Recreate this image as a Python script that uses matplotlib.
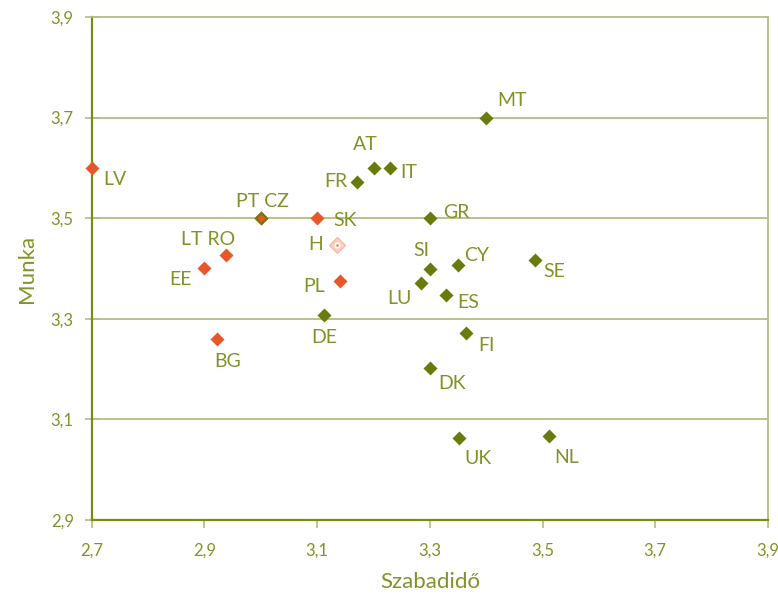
import matplotlib.pyplot as plt
from matplotlib.ticker import FuncFormatter

plt.rcParams['font.family'] = ['Lato', 'DejaVu Sans']

# old member states (green)
old_codes = ['MT', 'AT', 'IT', 'FR', 'PT', 'GR', 'SI', 'CY', 'SE', 'LU', 'ES',
             'DE', 'FI', 'DK', 'UK', 'NL']
old_x = [3.40, 3.20, 3.23, 3.17, 3.00, 3.30, 3.30, 3.35, 3.486, 3.284, 3.328,
         3.112, 3.364, 3.30, 3.351, 3.511]
old_y = [3.70, 3.60, 3.60, 3.572, 3.50, 3.50, 3.40, 3.407, 3.417, 3.372, 3.348,
         3.308, 3.272, 3.202, 3.063, 3.067]

# new member states (orange)
new_codes = ['LV', 'CZ', 'SK', 'RO', 'EE', 'PL', 'BG']
new_x = [2.70, 3.00, 3.10, 2.938, 2.90, 3.14, 2.922]
new_y = [3.60, 3.50, 3.50, 3.427, 3.401, 3.375, 3.260]

# Hungary, highlighted
hu_x, hu_y = 3.135, 3.447

# label text and pixel offset from its point
labels = {
    'MT': ('MT', 11, 17, 'left'), 'AT': ('AT', -8, 23, 'center'),
    'IT': ('IT', 10, -5, 'left'), 'FR': ('FR', -9, 0, 'right'),
    'PT': ('PT CZ', 2, 17, 'center'), 'GR': ('GR', 13, 6, 'left'),
    'SI': ('SI', -9, 18, 'center'), 'CY': ('CY', 6, 9, 'left'),
    'SE': ('SE', 9, -12, 'left'), 'LU': ('LU', -9, -16, 'right'),
    'ES': ('ES', 12, -8, 'left'), 'DE': ('DE', 0, -23, 'center'),
    'FI': ('FI', 12, -13, 'left'), 'DK': ('DK', 8, -15, 'left'),
    'UK': ('UK', 6, -20, 'left'), 'NL': ('NL', 6, -22, 'left'),
    'LV': ('LV', 11, -12, 'left'), 'SK': ('SK', 16, -2, 'left'),
    'RO': ('LT RO', -18, 15, 'center'), 'EE': ('EE', -13, -12, 'right'),
    'PL': ('PL', -15, -5, 'right'), 'BG': ('BG', 11, -23, 'center'),
}

green = '#6a7a0c'
orange = '#e8572a'
text_c = '#819328'
grid_c = '#b4bc82'
axis_c = '#7a8a12'

fig = plt.figure(figsize=(7.78, 5.97), dpi=100)
ax = fig.add_axes([0.118, 0.129, 0.869, 0.8425])

ax.set_xlim(2.7, 3.9)
ax.set_ylim(2.9, 3.9)
ax.set_xticks([2.7, 2.9, 3.1, 3.3, 3.5, 3.7, 3.9])
ax.set_yticks([2.9, 3.1, 3.3, 3.5, 3.7, 3.9])
fmt = FuncFormatter(lambda v, p: f'{v:.1f}'.replace('.', ','))
ax.xaxis.set_major_formatter(fmt)
ax.yaxis.set_major_formatter(fmt)

for yv in [3.1, 3.3, 3.5, 3.7]:
    ax.axhline(yv, color=grid_c, lw=1.3, zorder=1)

ax.plot(new_x, new_y, 'D', color=orange, ms=7, mec='none', zorder=3, clip_on=False)
ax.plot(old_x, old_y, 'D', color=green, ms=7, mec='none', zorder=4, clip_on=False)
# CZ overlaps PT: orange inside green
ax.plot([3.00], [3.50], 'D', color=orange, ms=4, mec='none', zorder=5)

ax.plot([hu_x], [hu_y], 'D', color='#fbd0c0', ms=8, mec='#f6b39c', mew=0.8, zorder=4)
ax.plot([hu_x], [hu_y], 'o', color='white', ms=4.5, mec='none', zorder=5)
ax.plot([hu_x], [hu_y], 'o', color='#f08a66', ms=2, mec='none', zorder=6)
ax.annotate('H', (hu_x, hu_y), xytext=(-14, 0), textcoords='offset pixels',
            ha='right', va='center', fontsize=14, color=text_c)

pts = dict(zip(old_codes, zip(old_x, old_y)))
pts.update(zip(new_codes, zip(new_x, new_y)))
for code, (txt, dx, dy, ha) in labels.items():
    ax.annotate(txt, pts[code], xytext=(dx, dy), textcoords='offset pixels',
                ha=ha, va='center', fontsize=14, color=text_c)

for s in ['left', 'bottom']:
    ax.spines[s].set_color(axis_c)
    ax.spines[s].set_linewidth(1.6)
for s in ['top', 'right']:
    ax.spines[s].set_color(grid_c)
    ax.spines[s].set_linewidth(1.3)

ax.tick_params(axis='both', colors=grid_c, length=6, width=1.2,
               labelcolor=text_c, labelsize=12)
ax.tick_params(axis='y', direction='inout', length=10, pad=8)
ax.tick_params(axis='x', direction='out', pad=10)

ax.set_xlabel('Szabadidő', fontsize=16, color=text_c, labelpad=10)
ax.set_ylabel('Munka', fontsize=16, color=text_c, labelpad=10)

fig.savefig('out.png', dpi=100)
